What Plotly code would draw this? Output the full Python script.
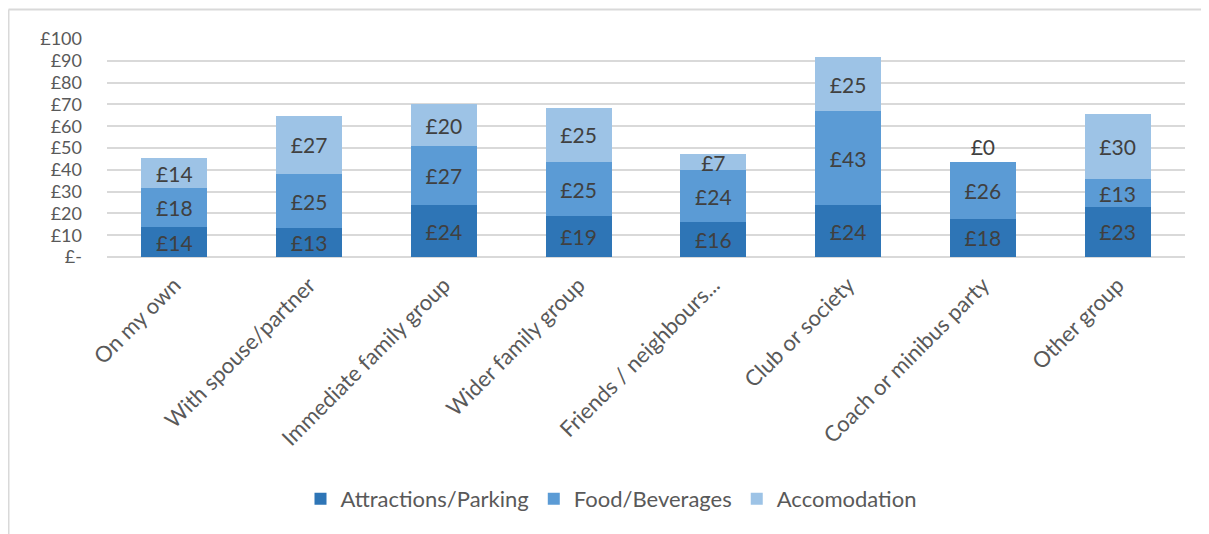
import plotly.graph_objects as go

categories = ["On my own", "With spouse/partner", "Immediate family group", "Wider family group",
              "Friends / neighbours...", "Club or society", "Coach or minibus party", "Other group"]
attractions = [13.7, 13.1, 23.8, 18.6, 16.1, 23.8, 17.6, 23.0]
food = [17.8, 24.9, 26.9, 25.0, 23.7, 43.2, 26.1, 12.7]
accom = [14.0, 26.9, 19.6, 24.8, 7.4, 24.6, 0.0, 29.9]
series_names = ["Attractions/Parking", "Food/Beverages", "Accomodation"]
colors = ["#2E75B6", "#5B9BD5", "#9DC3E6"]
tick_vals = [0, 10, 20, 30, 40, 50, 60, 70, 80, 90, 100]
tick_text = ["£-", "£10", "£20", "£30", "£40", "£50", "£60", "£70", "£80", "£90", "£100"]

FONT = "Lato, 'Open Sans', sans-serif"
OFF = 8  # browser body margin
fig = go.Figure()
for name, vals, col in zip(series_names, [attractions, food, accom], colors):
    positions = ["inside" if v > 0 else "outside" for v in vals]
    fig.add_trace(go.Bar(
        x=categories, y=vals, name=name, marker=dict(color=col, line=dict(width=0)),
        text=[f"£{round(v):d}" for v in vals], textposition=positions, textangle=0,
        insidetextanchor="middle", constraintext="none", cliponaxis=False,
        textfont=dict(family=FONT, size=21, color="#404040"),
        outsidetextfont=dict(family=FONT, size=21, color="#404040"),
        hoverinfo="skip",
    ))

W, H = 1209, 534
L, R = 107 - OFF, 1185 - OFF
T, B = 39.3 - OFF, 256.7 - OFF
def px(x):
    return (x - OFF - L) / (R - L)
def py(y):
    return (B - (y - OFF)) / (B - T)

fig.update_layout(
    width=W, height=H, barmode="stack", bargap=0.51,
    margin=dict(l=L, r=W - R, t=T, b=H - B, autoexpand=False),
    paper_bgcolor="white", plot_bgcolor="white",
    font=dict(family=FONT, color="#595959"),
    uniformtext=dict(mode=False),
    xaxis=dict(tickangle=-45, tickfont=dict(size=22, color="#595959"), showgrid=False,
               showline=False, ticks="", automargin=False, ticklabelstandoff=10),
    yaxis=dict(range=[0, 100], tickvals=tick_vals, ticktext=tick_text,
               tickfont=dict(size=18, color="#595959"), showgrid=True, gridcolor="#D9D9D9",
               gridwidth=2, zeroline=True, zerolinecolor="#D9D9D9", zerolinewidth=2,
               ticklabelstandoff=24, automargin=False),
    legend=dict(orientation="h", x=px(611), xanchor="center", y=py(498), yanchor="middle",
                font=dict(size=22, color="#595959"), traceorder="normal", itemwidth=30),
    shapes=[
        dict(type="line", xref="paper", yref="paper", x0=px(8.5), x1=px(8.5), y0=py(540), y1=py(10),
             line=dict(color="#D9D9D9", width=2)),
        dict(type="line", xref="paper", yref="paper", x0=px(8.5), x1=px(1220), y0=py(10), y1=py(10),
             line=dict(color="#D9D9D9", width=2)),
    ],
)
fig.write_html("out.html")
